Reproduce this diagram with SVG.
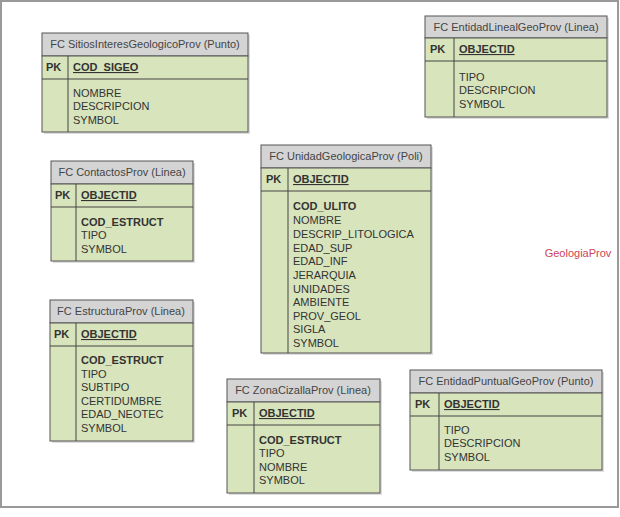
<svg xmlns="http://www.w3.org/2000/svg" width="620" height="517" viewBox="0 0 620 517">
<style>
text{font-family:"Liberation Sans",Arial,sans-serif;font-size:11px;fill:#333}
.hdr{fill:#d4d4d4;stroke:#555;stroke-width:1}
.bd{fill:#d8e4bc;stroke:#555;stroke-width:1}
.sh{fill:#bbb;opacity:0.5}
.ln{stroke:#444;stroke-width:1}
.ht{text-anchor:middle;fill:#444}
.pk{font-weight:bold}
.key{font-weight:bold;text-decoration:underline}
.b{font-weight:bold}
</style>
<rect x="0" y="0" width="620" height="517" fill="#fff"/>
<rect x="1" y="1" width="617" height="506" fill="none" stroke="#999" stroke-width="2"/>
<text x="578" y="257" style="fill:#cc4455;text-anchor:middle">GeologiaProv</text>

<g id="sitios">
<rect class="sh" x="44" y="35" width="206" height="99"/>
<rect class="hdr" x="42" y="33" width="206" height="23"/>
<rect class="bd" x="42" y="56" width="206" height="76"/>
<line class="ln" x1="42" y1="79" x2="248" y2="79"/>
<line class="ln" x1="68" y1="56" x2="68" y2="132"/>
<text class="ht" x="145" y="48">FC SitiosInteresGeologicoProv (Punto)</text>
<text class="pk" x="46" y="71">PK</text>
<text class="key" x="73" y="71">COD_SIGEO</text>
<text x="73" y="97">NOMBRE</text>
<text x="73" y="110">DESCRIPCION</text>
<text x="73" y="124">SYMBOL</text>
</g>

<g id="entidadLineal">
<rect class="sh" x="427" y="18" width="182" height="101"/>
<rect class="hdr" x="425" y="16" width="182" height="22"/>
<rect class="bd" x="425" y="38" width="182" height="79"/>
<line class="ln" x1="425" y1="61" x2="607" y2="61"/>
<line class="ln" x1="454" y1="38" x2="454" y2="117"/>
<text class="ht" x="516" y="31">FC EntidadLinealGeoProv (Linea)</text>
<text class="pk" x="430" y="53">PK</text>
<text class="key" x="459" y="53">OBJECTID</text>
<text x="459" y="81">TIPO</text>
<text x="459" y="94">DESCRIPCION</text>
<text x="459" y="108">SYMBOL</text>
</g>

<g id="contactos">
<rect class="sh" x="53" y="163" width="142" height="100"/>
<rect class="hdr" x="51" y="161" width="142" height="23"/>
<rect class="bd" x="51" y="184" width="142" height="77"/>
<line class="ln" x1="51" y1="207" x2="193" y2="207"/>
<line class="ln" x1="76" y1="184" x2="76" y2="261"/>
<text class="ht" x="122" y="176">FC ContactosProv (Linea)</text>
<text class="pk" x="55" y="199">PK</text>
<text class="key" x="81" y="199">OBJECTID</text>
<text class="b" x="81" y="226">COD_ESTRUCT</text>
<text x="81" y="239">TIPO</text>
<text x="81" y="253">SYMBOL</text>
</g>

<g id="unidad">
<rect class="sh" x="263" y="147" width="170" height="208"/>
<rect class="hdr" x="261" y="145" width="170" height="23"/>
<rect class="bd" x="261" y="168" width="170" height="185"/>
<line class="ln" x1="261" y1="191" x2="431" y2="191"/>
<line class="ln" x1="288" y1="168" x2="288" y2="353"/>
<text class="ht" x="346" y="160">FC UnidadGeologicaProv (Poli)</text>
<text class="pk" x="266" y="183">PK</text>
<text class="key" x="293" y="183">OBJECTID</text>
<text class="b" x="293" y="210">COD_ULITO</text>
<text x="293" y="224">NOMBRE</text>
<text x="293" y="238">DESCRIP_LITOLOGICA</text>
<text x="293" y="252">EDAD_SUP</text>
<text x="293" y="265">EDAD_INF</text>
<text x="293" y="279">JERARQUIA</text>
<text x="293" y="293">UNIDADES</text>
<text x="293" y="306">AMBIENTE</text>
<text x="293" y="320">PROV_GEOL</text>
<text x="293" y="333">SIGLA</text>
<text x="293" y="347">SYMBOL</text>
</g>

<g id="estructura">
<rect class="sh" x="52" y="302" width="143" height="141"/>
<rect class="hdr" x="50" y="300" width="143" height="23"/>
<rect class="bd" x="50" y="323" width="143" height="118"/>
<line class="ln" x1="50" y1="346" x2="193" y2="346"/>
<line class="ln" x1="76" y1="323" x2="76" y2="441"/>
<text class="ht" x="121" y="315">FC EstructuraProv (Linea)</text>
<text class="pk" x="54" y="338">PK</text>
<text class="key" x="81" y="338">OBJECTID</text>
<text class="b" x="81" y="364">COD_ESTRUCT</text>
<text x="81" y="378">TIPO</text>
<text x="81" y="391">SUBTIPO</text>
<text x="81" y="405">CERTIDUMBRE</text>
<text x="81" y="418">EDAD_NEOTEC</text>
<text x="81" y="432">SYMBOL</text>
</g>

<g id="zonaCizalla">
<rect class="sh" x="229" y="381" width="153" height="114"/>
<rect class="hdr" x="227" y="379" width="153" height="23"/>
<rect class="bd" x="227" y="402" width="153" height="91"/>
<line class="ln" x1="227" y1="425" x2="380" y2="425"/>
<line class="ln" x1="254" y1="402" x2="254" y2="493"/>
<text class="ht" x="303" y="394">FC ZonaCizallaProv (Linea)</text>
<text class="pk" x="232" y="417">PK</text>
<text class="key" x="259" y="417">OBJECTID</text>
<text class="b" x="259" y="444">COD_ESTRUCT</text>
<text x="259" y="457">TIPO</text>
<text x="259" y="471">NOMBRE</text>
<text x="259" y="484">SYMBOL</text>
</g>

<g id="entidadPuntual">
<rect class="sh" x="412" y="372" width="192" height="100"/>
<rect class="hdr" x="410" y="370" width="192" height="23"/>
<rect class="bd" x="410" y="393" width="192" height="77"/>
<line class="ln" x1="410" y1="416" x2="602" y2="416"/>
<line class="ln" x1="439" y1="393" x2="439" y2="470"/>
<text class="ht" x="506" y="385">FC EntidadPuntualGeoProv (Punto)</text>
<text class="pk" x="415" y="408">PK</text>
<text class="key" x="444" y="408">OBJECTID</text>
<text x="444" y="434">TIPO</text>
<text x="444" y="447">DESCRIPCION</text>
<text x="444" y="461">SYMBOL</text>
</g>

<g id="connectors"></g>
</svg>
